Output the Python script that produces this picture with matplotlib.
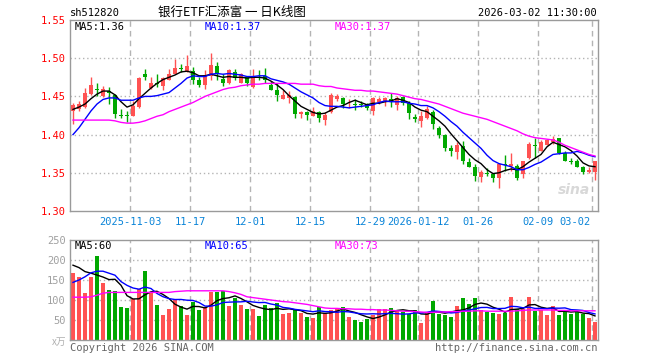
import matplotlib
matplotlib.use("Agg")
import matplotlib.pyplot as plt
import matplotlib.transforms as mtransforms
import numpy as np

# --- DATA (daily candles, 2025-10-20 .. 2026-03-02) ---
opens = [1.431, 1.433, 1.436, 1.453, 1.460, 1.450, 1.457, 1.452, 1.426, 1.426,
         1.425, 1.436, 1.479, 1.461, 1.467, 1.464, 1.472, 1.479, 1.487, 1.483,
         1.483, 1.471, 1.465, 1.477, 1.490, 1.473, 1.467, 1.482, 1.468, 1.475,
         1.462, 1.476, 1.477, 1.465, 1.458, 1.447, 1.448, 1.449, 1.427, 1.430,
         1.425, 1.430, 1.419, 1.429, 1.446, 1.448, 1.441, 1.440, 1.440, 1.440,
         1.431, 1.443, 1.444, 1.447, 1.439, 1.449, 1.441, 1.423, 1.418, 1.422,
         1.429, 1.409, 1.400, 1.383, 1.377, 1.385, 1.364, 1.358, 1.344, 1.350,
         1.348, 1.343, 1.361, 1.359, 1.359, 1.348, 1.370, 1.386, 1.379, 1.387,
         1.390, 1.395, 1.376, 1.365, 1.366, 1.358, 1.351, 1.351]
highs = [1.441, 1.444, 1.461, 1.475, 1.468, 1.463, 1.462, 1.453, 1.434, 1.431,
         1.444, 1.475, 1.486, 1.475, 1.479, 1.475, 1.486, 1.499, 1.493, 1.504,
         1.488, 1.475, 1.484, 1.507, 1.495, 1.479, 1.486, 1.486, 1.480, 1.477,
         1.486, 1.485, 1.487, 1.470, 1.468, 1.458, 1.457, 1.451, 1.431, 1.431,
         1.436, 1.431, 1.429, 1.454, 1.453, 1.449, 1.446, 1.446, 1.444, 1.442,
         1.449, 1.449, 1.449, 1.454, 1.451, 1.451, 1.444, 1.427, 1.431, 1.438,
         1.432, 1.411, 1.401, 1.387, 1.390, 1.392, 1.369, 1.362, 1.354, 1.356,
         1.350, 1.363, 1.373, 1.376, 1.361, 1.366, 1.390, 1.396, 1.393, 1.394,
         1.398, 1.396, 1.379, 1.369, 1.368, 1.359, 1.357, 1.365]
lows = [1.414, 1.431, 1.435, 1.452, 1.451, 1.449, 1.440, 1.422, 1.422, 1.417,
        1.425, 1.435, 1.471, 1.460, 1.462, 1.458, 1.471, 1.479, 1.482, 1.482,
        1.466, 1.462, 1.460, 1.472, 1.472, 1.463, 1.466, 1.471, 1.467, 1.464,
        1.461, 1.472, 1.467, 1.458, 1.444, 1.446, 1.442, 1.422, 1.422, 1.419,
        1.424, 1.417, 1.413, 1.428, 1.444, 1.435, 1.435, 1.432, 1.436, 1.432,
        1.426, 1.440, 1.438, 1.436, 1.432, 1.439, 1.420, 1.416, 1.410, 1.420,
        1.407, 1.396, 1.379, 1.372, 1.368, 1.361, 1.357, 1.339, 1.338, 1.346,
        1.338, 1.330, 1.352, 1.353, 1.341, 1.343, 1.368, 1.370, 1.379, 1.386,
        1.388, 1.374, 1.365, 1.362, 1.357, 1.349, 1.350, 1.341]
closes = [1.439, 1.440, 1.455, 1.465, 1.458, 1.460, 1.455, 1.427, 1.425, 1.425,
          1.438, 1.474, 1.475, 1.467, 1.466, 1.474, 1.479, 1.487, 1.486, 1.490,
          1.471, 1.465, 1.478, 1.491, 1.479, 1.467, 1.485, 1.474, 1.479, 1.467,
          1.477, 1.475, 1.471, 1.459, 1.452, 1.452, 1.452, 1.427, 1.430, 1.426,
          1.431, 1.422, 1.426, 1.452, 1.450, 1.440, 1.442, 1.439, 1.439, 1.435,
          1.448, 1.447, 1.448, 1.443, 1.448, 1.441, 1.428, 1.420, 1.425, 1.433,
          1.414, 1.400, 1.383, 1.378, 1.387, 1.366, 1.358, 1.346, 1.351, 1.349,
          1.343, 1.361, 1.360, 1.362, 1.343, 1.365, 1.388, 1.385, 1.390, 1.393,
          1.394, 1.376, 1.366, 1.364, 1.358, 1.351, 1.354, 1.365]

ma5 = [1.433, 1.436, 1.440, 1.447, 1.453, 1.457, 1.457, 1.452, 1.443, 1.436,
       1.439, 1.447, 1.454, 1.461, 1.467, 1.472, 1.475, 1.478, 1.482, 1.483,
       1.481, 1.477, 1.477, 1.479, 1.477, 1.475, 1.476, 1.475, 1.475, 1.474,
       1.475, 1.475, 1.474, 1.470, 1.465, 1.459, 1.451, 1.444, 1.437, 1.433,
       1.429, 1.427, 1.428, 1.432, 1.436, 1.438, 1.442, 1.445, 1.442, 1.439,
       1.441, 1.441, 1.443, 1.444, 1.447, 1.445, 1.442, 1.436, 1.432, 1.430,
       1.424, 1.418, 1.411, 1.401, 1.392, 1.383, 1.374, 1.367, 1.362, 1.354,
       1.349, 1.350, 1.353, 1.355, 1.354, 1.358, 1.364, 1.369, 1.374, 1.384,
       1.390, 1.387, 1.384, 1.379, 1.372, 1.363, 1.359, 1.358]
ma10 = [1.400, 1.409, 1.420, 1.431, 1.440, 1.446, 1.448, 1.448, 1.445, 1.445,
        1.445, 1.448, 1.450, 1.450, 1.451, 1.453, 1.455, 1.461, 1.467, 1.474,
        1.477, 1.476, 1.476, 1.479, 1.480, 1.479, 1.480, 1.479, 1.478, 1.476,
        1.476, 1.477, 1.477, 1.473, 1.471, 1.469, 1.466, 1.461, 1.456, 1.452,
        1.448, 1.442, 1.438, 1.437, 1.437, 1.436, 1.435, 1.436, 1.437, 1.438,
        1.439, 1.442, 1.444, 1.443, 1.443, 1.443, 1.441, 1.440, 1.438, 1.438,
        1.435, 1.430, 1.424, 1.417, 1.411, 1.403, 1.396, 1.389, 1.382, 1.373,
        1.366, 1.362, 1.360, 1.358, 1.354, 1.354, 1.357, 1.361, 1.364, 1.369,
        1.374, 1.375, 1.376, 1.376, 1.378, 1.376, 1.373, 1.371]
ma30 = [1.419, 1.419, 1.419, 1.419, 1.419, 1.419, 1.419, 1.418, 1.416, 1.415,
        1.415, 1.416, 1.418, 1.421, 1.424, 1.426, 1.430, 1.433, 1.436, 1.439,
        1.442, 1.446, 1.450, 1.453, 1.456, 1.459, 1.461, 1.462, 1.464, 1.465,
        1.466, 1.466, 1.467, 1.467, 1.467, 1.467, 1.467, 1.467, 1.466, 1.466,
        1.466, 1.464, 1.463, 1.463, 1.461, 1.460, 1.459, 1.458, 1.458, 1.457,
        1.457, 1.456, 1.455, 1.454, 1.453, 1.451, 1.449, 1.447, 1.446, 1.444,
        1.442, 1.440, 1.437, 1.434, 1.431, 1.428, 1.426, 1.424, 1.422, 1.420,
        1.417, 1.414, 1.411, 1.408, 1.405, 1.401, 1.398, 1.396, 1.395, 1.394,
        1.393, 1.390, 1.386, 1.383, 1.380, 1.377, 1.374, 1.372]

# volume in 万
volume = [168, 157, 118, 158, 211, 143, 125, 122, 83, 81,
          102, 127, 172, 121, 87, 62, 77, 100, 85, 62,
          96, 75, 83, 119, 119, 122, 85, 106, 87, 77,
          77, 60, 87, 79, 93, 64, 67, 75, 68, 58,
          56, 83, 68, 75, 79, 83, 58, 50, 46, 52,
          62, 77, 77, 81, 72, 71, 65, 75, 43, 68,
          97, 65, 62, 58, 85, 106, 90, 106, 75, 71,
          68, 65, 68, 108, 77, 77, 108, 73, 75, 62,
          85, 62, 75, 65, 69, 65, 56, 46]
vol_ma5 = [187, 181, 171, 167, 162.4, 157.4, 151, 151.8, 136.8, 110.8,
           102.6, 103, 113, 120.6, 121.8, 113.8, 103.8, 89.4, 82.2, 77.2,
           84, 83.6, 80.2, 87, 98.4, 103.6, 105.6, 110.2, 103.8, 95.4,
           86.4, 81.4, 77.6, 76, 79.2, 76.6, 78, 75.6, 73.4, 66.4,
           64.8, 68, 66.6, 68, 72.2, 77.6, 72.6, 69, 63.2, 57.8,
           53.6, 57.4, 62.8, 69.8, 73.8, 75.6, 73.2, 72.8, 65.2, 64.4,
           69.6, 69.6, 67, 70, 73.4, 75.2, 80.2, 89, 92.4, 89.6,
           82, 77, 69.4, 76, 77.2, 79, 87.6, 88.6, 82, 79,
           80.6, 71.4, 71.8, 69.8, 71.2, 67.2, 66, 60.2]
vol_ma10 = [144, 150, 158, 168, 172, 172, 167, 162, 146, 136.6,
            130, 127, 132.4, 128.7, 116.3, 108.2, 103.4, 101.2, 101.4, 99.5,
            98.9, 93.7, 84.8, 84.6, 87.8, 93.8, 94.6, 95.2, 95.4, 96.9,
            95, 93.5, 93.9, 89.9, 87.3, 81.5, 79.7, 76.6, 74.7, 72.8,
            70.7, 73, 71.1, 70.7, 69.3, 71.2, 70.3, 67.8, 65.6, 65,
            65.6, 65, 65.9, 66.5, 65.8, 64.6, 65.3, 67.8, 67.5, 69.1,
            72.6, 71.4, 69.9, 67.6, 68.9, 72.4, 74.9, 78, 81.2, 81.5,
            78.6, 78.6, 79.2, 84.2, 83.4, 80.5, 82.3, 79, 79, 78.1,
            79.8, 79.5, 80.2, 75.9, 75.1, 73.9, 68.7, 65.2]
vol_ma30 = [107, 107, 107, 108, 112, 117, 119, 119, 119, 119,
            119, 119, 119, 119, 119, 119, 119, 121, 122, 123,
            123, 123, 123, 123, 123, 123, 121, 118, 114, 108,
            106, 104, 102, 100, 98, 96, 95, 93, 91, 89,
            86, 83, 80, 79, 79, 78, 78, 77, 77, 76,
            76, 75, 75, 74, 73, 72, 72, 71, 70, 69,
            69, 70, 70, 71, 71, 72, 72, 73, 73, 72,
            72, 72, 72, 72, 73, 74, 75, 75, 75, 75,
            75, 74, 74, 73, 73, 73, 73, 73]

date_labels = ["2025-11-03", "11-17", "12-01", "12-15", "12-29",
               "2026-01-12", "01-26", "02-09", "03-02"]
date_idx = [10, 20, 30, 40, 50, 58, 68, 78, 87]
price_ticks = [1.30, 1.35, 1.40, 1.45, 1.50, 1.55]
vol_ticks = [50, 100, 150, 200, 250]

# --- STYLE ---
RED = "#ff5252"
GREEN = "#00a800"
GRID = "#b4b4b4"
FRAME = "#9a9a9a"
MONO = "DejaVu Sans Mono"
CJK = ["Noto Sans CJK SC", "DejaVu Sans"]
W, H = 660, 360

o = np.array(opens); h = np.array(highs); l = np.array(lows); c = np.array(closes)
x = np.arange(len(c))
colors = np.where(c >= o, RED, GREEN)

fig = plt.figure(figsize=(W / 100, H / 100), dpi=100)
ax = fig.add_axes([70 / W, 1 - 211 / H, 528 / W, 191 / H])
axv = fig.add_axes([70 / W, 1 - 340 / H, 528 / W, 100 / H])


def ftext(px, py, s, **kw):
    kw.setdefault("va", "center")
    fig.text(px / W, 1 - py / H, s, **kw)


for a in (ax, axv):
    a.set_xlim(-0.5, len(c) - 0.5)
    for sp in a.spines.values():
        sp.set_color(FRAME)
        sp.set_linewidth(1)
    a.set_xticks([i - 0.5 for i in date_idx])
    a.set_xticklabels([])
    a.tick_params(length=0)
    a.grid(axis="x", color=GRID, linestyle=(0, (4, 3)), linewidth=1)
    a.set_axisbelow(True)

# --- price panel ---
ax.set_ylim(1.30, 1.55)
ax.set_yticks(price_ticks)
ax.set_yticklabels([f"{v:.2f}" for v in price_ticks], color="red",
                   fontfamily=MONO, fontsize=7.5)
ax.tick_params(axis="y", pad=3)
for v in price_ticks[1:-1]:
    ax.axhline(v, color=GRID, linestyle=(0, (1, 2)), linewidth=1, zorder=0)

ax.vlines(x, l, h, colors=colors, linewidth=1, zorder=2)
body_lo = np.minimum(o, c)
body_h = np.maximum(np.abs(c - o), 0.0009)
ax.bar(x, body_h, bottom=body_lo, width=0.7, color=colors, linewidth=0, zorder=3)

ax.plot(x, ma5, color="black", linewidth=1, zorder=4)
ax.plot(x, ma10, color="#0000ff", linewidth=1, zorder=4)
ax.plot(x, ma30, color="#ff00ff", linewidth=1, zorder=4)

trans = mtransforms.blended_transform_factory(ax.transData, ax.transAxes)
for i, lab in zip(date_idx, date_labels):
    if i == date_idx[-1]:
        ax.text(i - 0.8, -0.058, lab, transform=trans, ha="right", va="center",
                color="#0a84d8", fontfamily=MONO, fontsize=7.5)
    else:
        ax.text(i - 0.5, -0.058, lab, transform=trans, ha="center", va="center",
                color="#0a84d8", fontfamily=MONO, fontsize=7.5)

ax.text(0.955, 0.11, "sina", transform=ax.transAxes, ha="center", va="center",
        fontsize=10, fontweight="bold", style="italic", color="#d8d8d8", zorder=1)

# --- volume panel ---
axv.set_ylim(0, 250)
axv.set_yticks(vol_ticks)
axv.set_yticklabels([str(v) for v in vol_ticks], color="#a0a0a0",
                    fontfamily=MONO, fontsize=7.5)
axv.tick_params(axis="y", pad=3)
for v in vol_ticks[:-1]:
    axv.axhline(v, color=GRID, linestyle=(0, (1, 2)), linewidth=1, zorder=0)
axv.bar(x, volume, width=0.8, color=colors, linewidth=0, zorder=2)
axv.plot(x, vol_ma5, color="black", linewidth=1, zorder=4)
axv.plot(x, vol_ma10, color="#0000ff", linewidth=1, zorder=4)
axv.plot(x, vol_ma30, color="#ff00ff", linewidth=1, zorder=4)

# --- texts ---
ftext(70, 13, "sh512820", fontfamily=MONO, fontsize=7.5, color="black")
ftext(232, 12, "银行ETF汇添富 一 日K线图", family=CJK, fontsize=9,
      ha="center", color="black")
ftext(597, 13, "2026-03-02 11:30:00", fontfamily=MONO, fontsize=7.5,
      ha="right", color="black")

ftext(75, 27, f"MA5:{ma5[-1]:.2f}", fontfamily=MONO, fontsize=7.5, color="black")
ftext(205, 27, f"MA10:{ma10[-1]:.2f}", fontfamily=MONO, fontsize=7.5, color="#0000ff")
ftext(335, 27, f"MA30:{ma30[-1]:.2f}", fontfamily=MONO, fontsize=7.5, color="#ff00ff")

ftext(75, 246, f"MA5:{vol_ma5[-1]:.0f}", fontfamily=MONO, fontsize=7.5, color="black")
ftext(205, 246, f"MA10:{vol_ma10[-1]:.0f}", fontfamily=MONO, fontsize=7.5, color="#0000ff")
ftext(335, 246, f"MA30:{vol_ma30[-1]:.0f}", fontfamily=MONO, fontsize=7.5, color="#ff00ff")

ftext(66, 342, "x万", family=CJK, fontsize=7, ha="right", color="#b0b0b0")
ftext(70, 348, "Copyright 2026 SINA.COM", fontfamily=MONO, fontsize=7.5, color="#666666")
ftext(597, 348, "http://finance.sina.com.cn", fontfamily=MONO, fontsize=7.5,
      ha="right", color="#666666")

fig.savefig("out.png", dpi=100, facecolor="white")
